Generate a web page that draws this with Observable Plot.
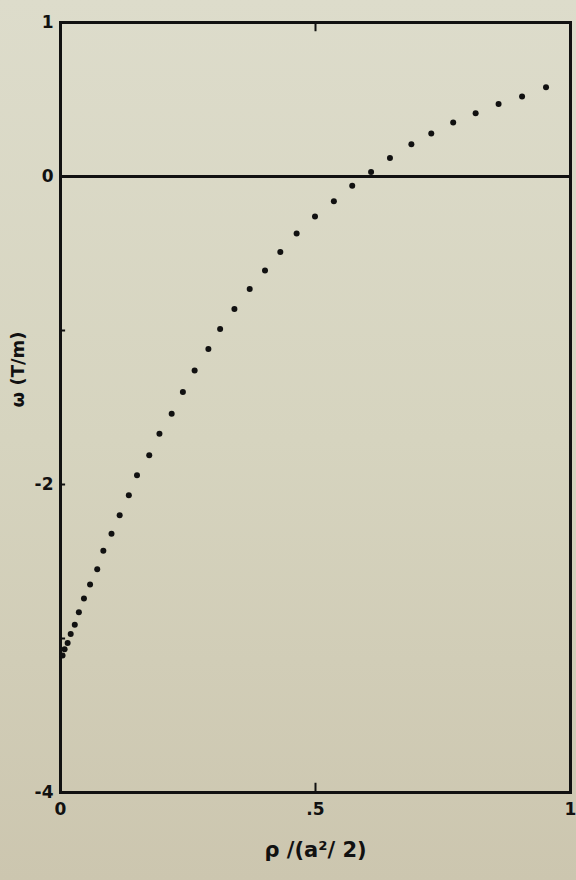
<!DOCTYPE html>
<html>
<head>
<meta charset="utf-8">
<script src="https://cdn.jsdelivr.net/npm/d3@7"></script>
<script src="https://cdn.jsdelivr.net/npm/@observablehq/plot@0.6"></script>
<style>
  html, body { margin: 0; padding: 0; }
  body {
    width: 576px; height: 880px; overflow: hidden;
    background: linear-gradient(180deg, #dddccb 0%, #d6d4bf 50%, #ccc6af 100%);
  }
  #chart svg { display: block; background: transparent; }
</style>
</head>
<body>
<div id="chart"></div>
<script>
// Dot series
const rho = [0.004, 0.008, 0.014, 0.020, 0.028, 0.036, 0.046, 0.058, 0.072, 0.084,
             0.100, 0.116, 0.134, 0.150, 0.174, 0.194, 0.218, 0.240, 0.263, 0.290,
             0.313, 0.341, 0.371, 0.401, 0.431, 0.463, 0.499, 0.536, 0.572, 0.609,
             0.646, 0.688, 0.727, 0.770, 0.814, 0.859, 0.905, 0.952];
const omega = [-3.11, -3.07, -3.03, -2.97, -2.91, -2.83, -2.74, -2.65, -2.55, -2.43,
               -2.32, -2.20, -2.07, -1.94, -1.81, -1.67, -1.54, -1.40, -1.26, -1.12,
               -0.99, -0.86, -0.73, -0.61, -0.49, -0.37, -0.26, -0.16, -0.06, 0.03,
               0.12, 0.21, 0.28, 0.35, 0.41, 0.47, 0.52, 0.58];

// Axis ticks and labels
const yTickValues = [1, 0, -2, -4];
const yTickLabels = ["1", "0", "-2", "-4"];
const yMinorTicks = [-1, -2, -3];
const xTickValues = [0, 0.5, 1];
const xTickLabels = ["0", ".5", "1"];
const xInnerTicks = [0.5];

const xLabel = "ρ /(a²/ 2)";
const yLabel = "ω (T/m)";

const points = rho.map((r, i) => ({x: r, y: omega[i]}));
const yTicks = yTickValues.map((v, i) => ({y: v, label: yTickLabels[i]}));
const xTicks = xTickValues.map((v, i) => ({x: v, label: xTickLabels[i]}));

const font = "'DejaVu Sans', sans-serif";

const chart = Plot.plot({
  width: 576,
  height: 880,
  marginLeft: 60,
  marginRight: 6,
  marginTop: 22,
  marginBottom: 88,
  style: {background: "transparent", fontFamily: font},
  x: {domain: [0, 1], axis: null},
  y: {domain: [-4, 1], axis: null},
  marks: [
    Plot.frame({stroke: "#111", strokeWidth: 3}),
    Plot.ruleY([0], {stroke: "#111", strokeWidth: 3}),
    // inward ticks on the left axis
    Plot.ruleY(yMinorTicks, {x1: 0, x2: 0.01, stroke: "#111", strokeWidth: 2}),
    // inward ticks top and bottom
    Plot.ruleX(xInnerTicks, {y1: 1, y2: 0.94, stroke: "#111", strokeWidth: 2}),
    Plot.ruleX(xInnerTicks, {y1: -4, y2: -3.94, stroke: "#111", strokeWidth: 2}),
    // y tick labels
    Plot.text(yTicks, {x: 0, y: "y", text: "label", textAnchor: "end", dx: -7,
      fontSize: 17, fontWeight: "bold", fill: "#111"}),
    // x tick labels
    Plot.text(xTicks, {x: "x", y: -4, text: "label", dy: 17,
      fontSize: 17, fontWeight: "bold", fill: "#111"}),
    // data dots
    Plot.dot(points, {x: "x", y: "y", r: 3, fill: "#111", stroke: "none"}),
    // axis labels
    Plot.text([xLabel], {frameAnchor: "bottom", dy: 64, fontSize: 21, fontWeight: "bold",
      fill: "#111", text: d => d}),
    Plot.text([yLabel], {frameAnchor: "left", dx: -42, dy: 0, rotate: -90, fontSize: 18,
      fontWeight: "bold", fill: "#111", text: d => d})
  ]
});
document.getElementById("chart").append(chart);
</script>
</body>
</html>
